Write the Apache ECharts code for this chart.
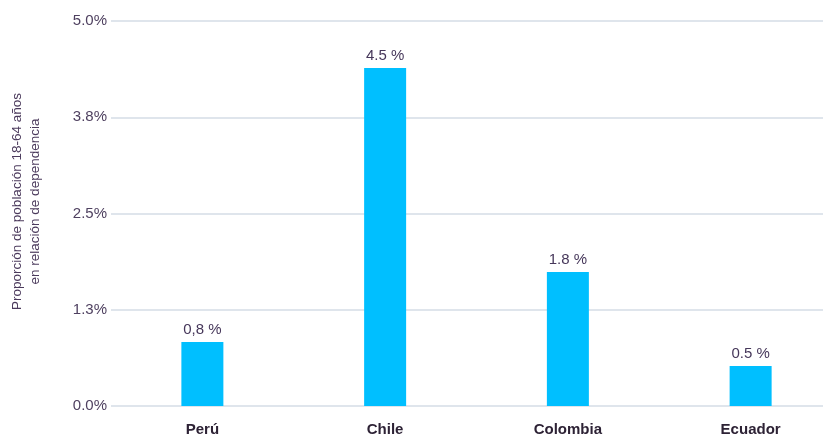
<!DOCTYPE html>
<html><head><meta charset="utf-8">
<script src="https://cdn.jsdelivr.net/npm/echarts@6/dist/echarts.min.js"></script>
<style>html,body{margin:0;padding:0;background:#fff;overflow:hidden}#c{width:842px;height:438px}</style>
</head><body><div id="c"></div>
<script>
const categories = ['Perú', 'Chile', 'Colombia', 'Ecuador'];
const values = [0.83, 4.39, 1.74, 0.52];
const valueLabels = ['0,8 %', '4.5 %', '1.8 %', '0.5 %'];
const tickLabels = ['0.0%', '1.3%', '2.5%', '3.8%', '5.0%'];

const chart = echarts.init(document.getElementById('c'));
chart.setOption({
  animation: false,
  grid: { left: 110, top: 21, bottom: 32, right: 0 },
  xAxis: {
    type: 'category', data: categories,
    axisLine: { show: false }, axisTick: { show: false },
    axisLabel: { margin: 16, fontFamily: 'Liberation Sans', fontSize: 15, fontWeight: 'bold', color: '#2d2235' }
  },
  yAxis: {
    type: 'value', min: 0, max: 5, interval: 1.25,
    name: 'Proporción de población 18-64 años\nen relación de dependencia',
    nameLocation: 'middle', nameGap: 67, nameRotate: 90,
    nameTextStyle: { fontFamily: 'Liberation Sans', fontSize: 13.5, color: '#4b3a5c', lineHeight: 18, padding: [0, 0, 0, 24] },
    axisLine: { show: false }, axisTick: { show: false },
    axisLabel: { margin: 4, fontFamily: 'Liberation Sans', fontSize: 15, color: '#4f4160',
      formatter: function (v) { return tickLabels[Math.round(v / 1.25)]; } },
    splitLine: { lineStyle: { color: '#d5dde6', width: 1.5 } }
  },
  series: [{
    type: 'bar', data: values, barWidth: 42,
    itemStyle: { color: '#00bfff' },
    label: { show: true, position: 'top', distance: 5, fontFamily: 'Liberation Sans', fontSize: 15, color: '#46375a',
      formatter: function (p) { return valueLabels[p.dataIndex]; } }
  }]
});
</script></body></html>
